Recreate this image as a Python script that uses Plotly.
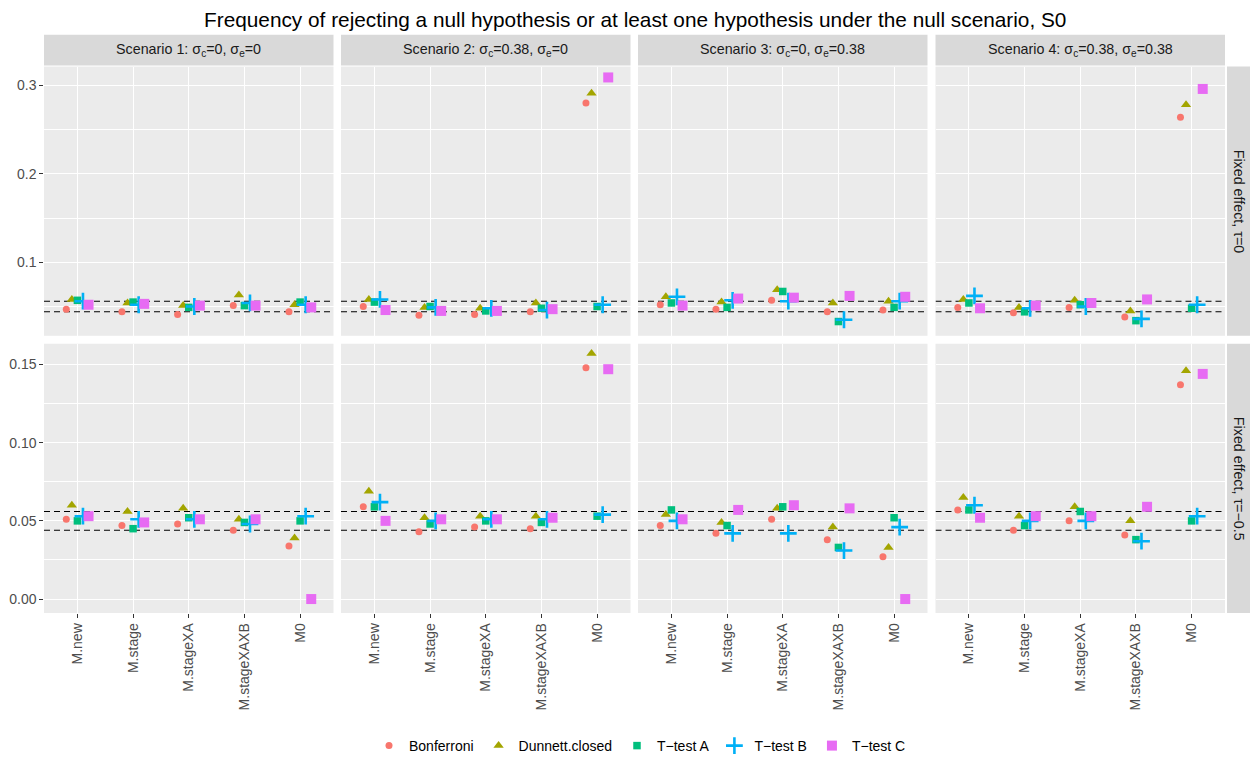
import plotly.graph_objects as go

W, H = 1250, 762

methods = ["M.new", "M.stage", "M.stageXA", "M.stageXAXB", "M0"]
tests = ["Bonferroni", "Dunnett.closed", "T\u2212test A", "T\u2212test B", "T\u2212test C"]
colors = ["#F8766D", "#A3A500", "#00BF7D", "#00B0F6", "#E76BF3"]
scenario_labels = [
    "Scenario 1: \u03c3<sub>c</sub>=0, \u03c3<sub>e</sub>=0",
    "Scenario 2: \u03c3<sub>c</sub>=0.38, \u03c3<sub>e</sub>=0",
    "Scenario 3: \u03c3<sub>c</sub>=0, \u03c3<sub>e</sub>=0.38",
    "Scenario 4: \u03c3<sub>c</sub>=0.38, \u03c3<sub>e</sub>=0.38",
]
row_labels = ["Fixed effect, \u03c4=0", "Fixed effect, \u03c4=\u22120.5"]

# rejection frequencies, one list per scenario (methods in order above)
bonferroni_tau0 = [
    [0.047, 0.044, 0.041, 0.051, 0.044],
    [0.050, 0.040, 0.041, 0.044, 0.280],
    [0.052, 0.047, 0.057, 0.044, 0.046],
    [0.049, 0.043, 0.049, 0.038, 0.264],
]
dunnett_tau0 = [
    [0.058, 0.054, 0.051, 0.063, 0.052],
    [0.058, 0.049, 0.048, 0.054, 0.291],
    [0.061, 0.055, 0.069, 0.054, 0.056],
    [0.058, 0.049, 0.057, 0.045, 0.278],
]
ttest_a_tau0 = [
    [0.057, 0.055, 0.049, 0.051, 0.055],
    [0.055, 0.050, 0.045, 0.048, 0.050],
    [0.054, 0.049, 0.067, 0.033, 0.049],
    [0.054, 0.044, 0.052, 0.034, 0.048],
]
ttest_b_tau0 = [
    [0.056, 0.052, 0.050, 0.054, 0.052],
    [0.058, 0.049, 0.048, 0.046, 0.052],
    [0.061, 0.057, 0.056, 0.035, 0.056],
    [0.062, 0.048, 0.050, 0.036, 0.052],
]
ttest_c_tau0 = [
    [0.052, 0.053, 0.051, 0.051, 0.049],
    [0.046, 0.045, 0.045, 0.047, 0.309],
    [0.051, 0.059, 0.060, 0.062, 0.061],
    [0.048, 0.051, 0.054, 0.058, 0.296],
]

bonferroni_tau05 = [
    [0.051, 0.047, 0.048, 0.044, 0.034],
    [0.059, 0.043, 0.046, 0.045, 0.148],
    [0.047, 0.042, 0.051, 0.038, 0.027],
    [0.057, 0.044, 0.050, 0.041, 0.137],
]
dunnett_tau05 = [
    [0.060, 0.056, 0.058, 0.051, 0.039],
    [0.069, 0.052, 0.053, 0.053, 0.157],
    [0.054, 0.049, 0.058, 0.046, 0.033],
    [0.065, 0.053, 0.059, 0.050, 0.146],
]
ttest_a_tau05 = [
    [0.050, 0.045, 0.052, 0.049, 0.050],
    [0.059, 0.048, 0.050, 0.049, 0.053],
    [0.057, 0.047, 0.059, 0.033, 0.052],
    [0.057, 0.047, 0.056, 0.038, 0.050],
]
ttest_b_tau05 = [
    [0.053, 0.051, 0.051, 0.048, 0.053],
    [0.062, 0.050, 0.051, 0.051, 0.054],
    [0.050, 0.042, 0.042, 0.031, 0.046],
    [0.060, 0.050, 0.050, 0.037, 0.053],
]
ttest_c_tau05 = [
    [0.053, 0.049, 0.051, 0.051, 0.000],
    [0.050, 0.051, 0.051, 0.052, 0.147],
    [0.051, 0.057, 0.060, 0.058, 0.000],
    [0.052, 0.053, 0.053, 0.059, 0.144],
]

# nominal level band
band_low, band_high = 0.044, 0.056

row_values = [
    [bonferroni_tau0, dunnett_tau0, ttest_a_tau0, ttest_b_tau0, ttest_c_tau0],
    [bonferroni_tau05, dunnett_tau05, ttest_a_tau05, ttest_b_tau05, ttest_c_tau05],
]

# ---- panel geometry (pixels) ----
panel_x = [(44, 333.5), (341, 630.5), (638, 927.5), (935.5, 1225)]
panel_y = [(67, 338), (346, 617)]
strip_top = (35, 66)
strip_right = (1227, 1250)

STRIP_FONT = 14.3
XTICK_FONT = 14.0
YTICK_FONT = 14.0
LEGEND_FONT = 14.0

def fx(px):
    return px / W

def fy(py):
    return 1 - py / H

x_range = [0.4, 5.6]
dodge = [-0.2, -0.1, 0.0, 0.1, 0.2]
marker_styles = [
    dict(symbol="circle", size=7),
    dict(symbol="triangle-up", size=9),
    dict(symbol="square", size=7.5),
    dict(symbol="cross-thin", size=12),
    dict(symbol="square", size=10),
]

y_ranges = [[0.0169, 0.3213], [-0.0089, 0.1633]]
y_ticks = [([0.1, 0.2, 0.3], ["0.1", "0.2", "0.3"]),
           ([0.0, 0.05, 0.10, 0.15], ["0.00", "0.05", "0.10", "0.15"])]
y_minor = [[0.05, 0.15, 0.25], [0.025, 0.075, 0.125]]

fig = go.Figure()
layout = {}
shapes = []
annotations = []

for r in range(2):
    for c in range(4):
        idx = r * 4 + c + 1
        sx = "" if idx == 1 else str(idx)
        xa, ya = "x" + sx, "y" + sx
        layout["xaxis" + sx] = dict(
            domain=[fx(panel_x[c][0]), fx(panel_x[c][1])],
            anchor=ya, range=x_range,
            tickmode="array", tickvals=list(range(1, 6)), ticktext=methods,
            showticklabels=(r == 1), ticks="outside" if r == 1 else "",
            ticklen=3.7, tickwidth=1, tickcolor="#333333",
            tickangle=-90, tickfont=dict(size=XTICK_FONT, color="#4D4D4D"),
            showgrid=True, gridcolor="white", gridwidth=1.1,
            zeroline=False, showline=False, fixedrange=True,
        )
        layout["yaxis" + sx] = dict(
            domain=[fy(panel_y[r][1]), fy(panel_y[r][0])],
            anchor=xa, range=y_ranges[r],
            tickmode="array", tickvals=y_ticks[r][0], ticktext=y_ticks[r][1],
            showticklabels=(c == 0), ticks="outside" if c == 0 else "",
            ticklen=3.7, tickwidth=1, tickcolor="#333333",
            tickfont=dict(size=YTICK_FONT, color="#4D4D4D"),
            showgrid=True, gridcolor="white", gridwidth=1.1,
            minor=dict(tickmode="array", tickvals=y_minor[r], showgrid=True,
                       gridcolor="white", gridwidth=0.55, ticks=""),
            zeroline=False, showline=False, fixedrange=True,
        )
        # dashed reference band, drawn before the points
        for lvl in (band_high, band_low):
            fig.add_trace(go.Scatter(
                x=x_range, y=[lvl, lvl], mode="lines",
                line=dict(color="black", width=1.1, dash="6px,4px"),
                xaxis=xa, yaxis=ya, showlegend=False, hoverinfo="skip",
            ))
        for t in range(5):
            vals = row_values[r][t][c]
            ms = marker_styles[t]
            marker = dict(symbol=ms["symbol"], size=ms["size"], color=colors[t])
            if ms["symbol"] == "cross-thin":
                marker["line"] = dict(color=colors[t], width=2.6)
            else:
                marker["line"] = dict(width=0)
            fig.add_trace(go.Scatter(
                x=[i + 1 + dodge[t] for i in range(len(methods))],
                y=vals, mode="markers", marker=marker,
                xaxis=xa, yaxis=ya, name=tests[t], legendgroup=tests[t],
                showlegend=(idx == 1), cliponaxis=False,
            ))

# facet strips
for c in range(4):
    shapes.append(dict(type="rect", xref="paper", yref="paper",
                       x0=fx(panel_x[c][0]), x1=fx(panel_x[c][1]),
                       y0=fy(strip_top[1]), y1=fy(strip_top[0]),
                       fillcolor="#D9D9D9", line=dict(width=0), layer="below"))
    annotations.append(dict(
        xref="paper", yref="paper",
        x=fx((panel_x[c][0] + panel_x[c][1]) / 2), y=fy((strip_top[0] + strip_top[1]) / 2),
        text=scenario_labels[c], showarrow=False, xanchor="center", yanchor="middle",
        font=dict(size=STRIP_FONT, color="#1A1A1A"),
    ))
for r in range(2):
    shapes.append(dict(type="rect", xref="paper", yref="paper",
                       x0=fx(strip_right[0]), x1=fx(strip_right[1]),
                       y0=fy(panel_y[r][1]), y1=fy(panel_y[r][0]),
                       fillcolor="#D9D9D9", line=dict(width=0), layer="below"))
    annotations.append(dict(
        xref="paper", yref="paper",
        x=fx((strip_right[0] + strip_right[1]) / 2), y=fy((panel_y[r][0] + panel_y[r][1]) / 2),
        text=row_labels[r], showarrow=False, textangle=90,
        xanchor="center", yanchor="middle",
        font=dict(size=STRIP_FONT, color="#1A1A1A"),
    ))

annotations.append(dict(
    xref="paper", yref="paper", x=fx(634.5), y=fy(20),
    text="Frequency of rejecting a null hypothesis or at least one hypothesis under the null scenario, S0",
    showarrow=False, xanchor="center", yanchor="middle",
    font=dict(size=20.8, color="black"),
))

fig.update_layout(
    **layout,
    width=W, height=H,
    margin=dict(l=0, r=0, t=0, b=0),
    paper_bgcolor="white", plot_bgcolor="#EBEBEB",
    font=dict(family="Liberation Sans, Arial, sans-serif", color="black"),
    shapes=shapes, annotations=annotations,
    showlegend=True,
    legend=dict(orientation="h", x=fx(640), xanchor="center",
                y=fy(751), yanchor="middle",
                font=dict(size=LEGEND_FONT, color="black"),
                bgcolor="rgba(0,0,0,0)", itemclick=False, itemdoubleclick=False),
)

fig.write_html("out.html")
